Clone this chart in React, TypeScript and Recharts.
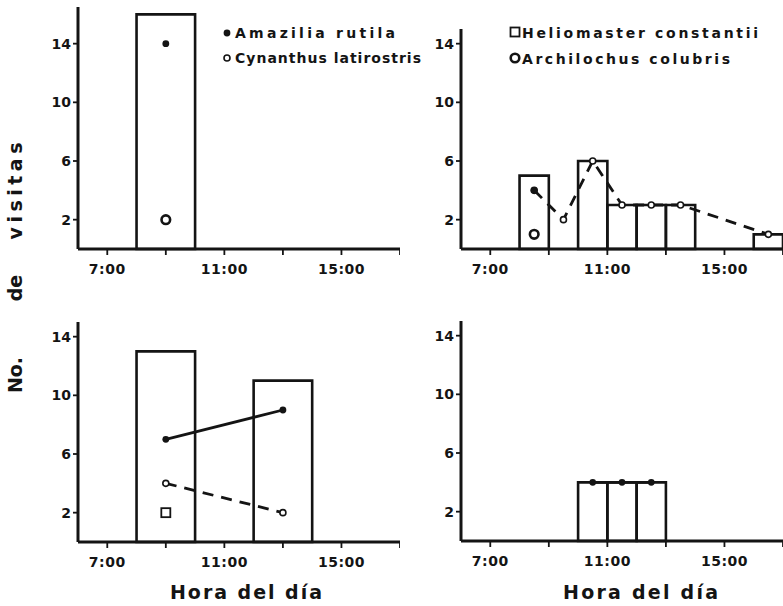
import { ComposedChart, XAxis, YAxis, Line, ReferenceArea } from 'recharts';

const INK = '#141414';
const FONT = '"DejaVu Sans", sans-serif';

// shared axes
const hourTicks = [7, 9, 11, 13, 15, 17];
const labelledHours = [7, 11, 15];
const countTicks = [2, 6, 10, 14];

// top left
const topLeftBars = [{ start: 8, end: 10, total: 16 }];
const topLeftAmazilia = [{ hour: 9, visits: 14 }];
const topLeftArchilochus = [{ hour: 9, visits: 2 }];

// top right
const topRightBars = [
  { start: 8, end: 9, total: 5 },
  { start: 10, end: 11, total: 6 },
  { start: 11, end: 12, total: 3 },
  { start: 12, end: 13, total: 3 },
  { start: 13, end: 14, total: 3 },
  { start: 16, end: 17, total: 1 },
];
const topRightAmazilia = [{ hour: 8.5, visits: 4 }];
const topRightCynanthus = [
  { hour: 9.5, visits: 2 },
  { hour: 10.5, visits: 6 },
  { hour: 11.5, visits: 3 },
  { hour: 12.5, visits: 3 },
  { hour: 13.5, visits: 3 },
  { hour: 16.5, visits: 1 },
];
const topRightArchilochus = [{ hour: 8.5, visits: 1 }];

// bottom left
const bottomLeftBars = [
  { start: 8, end: 10, total: 13 },
  { start: 12, end: 14, total: 11 },
];
const bottomLeftAmazilia = [
  { hour: 9, visits: 7 },
  { hour: 13, visits: 9 },
];
const bottomLeftCynanthus = [
  { hour: 9, visits: 4 },
  { hour: 13, visits: 2 },
];
const bottomLeftHeliomaster = [{ hour: 9, visits: 2 }];

// bottom right
const bottomRightBars = [
  { start: 10, end: 11, total: 4 },
  { start: 11, end: 12, total: 4 },
  { start: 12, end: 13, total: 4 },
];
const bottomRightAmazilia = [
  { hour: 10.5, visits: 4 },
  { hour: 11.5, visits: 4 },
  { hour: 12.5, visits: 4 },
];

type Point = { hour: number; visits: number };
type Bar = { start: number; end: number; total: number };
type Marker = 'filled' | 'open' | 'square' | 'ring';
type Series = { data: Point[]; marker: Marker | null; line?: 'solid' | 'dashed' };

function drawMarker(kind: Marker, cx: number, cy: number, key?: string | number) {
  switch (kind) {
    case 'filled':
      return <circle key={key} cx={cx} cy={cy} r={3.4} fill={INK} />;
    case 'open':
      return <circle key={key} cx={cx} cy={cy} r={3} fill="#fff" stroke={INK} strokeWidth={1.6} />;
    case 'square':
      return <rect key={key} x={cx - 4.5} y={cy - 4.5} width={9} height={9} fill="#fff" stroke={INK} strokeWidth={1.8} />;
    case 'ring':
      return <circle key={key} cx={cx} cy={cy} r={4.3} fill="#fff" stroke={INK} strokeWidth={2.6} />;
  }
}

const dotFor = (kind: Marker | null) => {
  if (!kind) return false;
  return (p: any) => {
    if (p.cx == null || p.cy == null) return <g key={p.index} />;
    return drawMarker(kind, p.cx, p.cy, p.index);
  };
};

interface PanelProps {
  left: number;
  top: number;
  height: number;
  plotTop: number;
  axisHeight: number;
  yMax: number;
  bars: Bar[];
  series: Series[];
}

function Panel({ left, top, height, plotTop, axisHeight, yMax, bars, series }: PanelProps) {
  return (
    <div style={{ position: 'absolute', left, top }}>
      <ComposedChart width={400} height={height} margin={{ top: plotTop, right: 0, bottom: 0, left: 0 }}>
        <XAxis
          type="number"
          dataKey="hour"
          domain={[6, 17]}
          ticks={hourTicks}
          interval={0}
          allowDataOverflow
          height={axisHeight}
          tickMargin={9}
          tickSize={6}
          tickFormatter={(v: number) => (labelledHours.includes(v) ? `${v}:00` : '')}
          axisLine={{ stroke: INK, strokeWidth: 3 }}
          tickLine={{ stroke: INK, strokeWidth: 1.8 }}
          tick={{ fill: INK, fontSize: 14, fontWeight: 'bold', fontFamily: FONT, letterSpacing: 0.5 }}
        />
        <YAxis
          type="number"
          domain={[0, yMax]}
          ticks={countTicks}
          interval={0}
          allowDataOverflow
          width={78}
          tickSize={5}
          tickMargin={2}
          axisLine={{ stroke: INK, strokeWidth: 3 }}
          tickLine={{ stroke: INK, strokeWidth: 1.8 }}
          tick={{ fill: INK, fontSize: 14, fontWeight: 'bold', fontFamily: FONT }}
        />
        {bars.map((b, i) => (
          <ReferenceArea
            key={i}
            x1={b.start}
            x2={b.end}
            y1={0}
            y2={b.total}
            fill="none"
            stroke={INK}
            strokeWidth={2.6}
            ifOverflow="visible"
          />
        ))}
        {series.map((s, i) => (
          <Line
            key={i}
            data={s.data}
            dataKey="visits"
            type="linear"
            stroke={s.line ? INK : 'none'}
            strokeWidth={2.8}
            strokeDasharray={s.line === 'dashed' ? '11 8' : undefined}
            dot={dotFor(s.marker)}
            activeDot={false}
            isAnimationActive={false}
          />
        ))}
      </ComposedChart>
    </div>
  );
}

const legendText = { fill: INK, fontSize: 14, fontWeight: 'bold' as const, fontFamily: FONT };
const titleText = { fill: INK, fontSize: 19, fontWeight: 'bold' as const, fontFamily: FONT };

export default function App() {
  return (
    <div style={{ position: 'absolute', left: 0, top: 0, width: 783, height: 606, overflow: 'hidden', background: '#fff' }}>
      <Panel
        left={0}
        top={0}
        height={300}
        plotTop={7}
        axisHeight={51}
        yMax={16.5}
        bars={topLeftBars}
        series={[
          { data: topLeftAmazilia, marker: 'filled' },
          { data: topLeftArchilochus, marker: 'ring' },
        ]}
      />
      <Panel
        left={383}
        top={0}
        height={300}
        plotTop={29}
        axisHeight={51}
        yMax={15}
        bars={topRightBars}
        series={[
          { data: [...topRightAmazilia, ...topRightCynanthus], marker: 'open', line: 'dashed' },
          { data: topRightAmazilia, marker: 'filled' },
          { data: topRightArchilochus, marker: 'ring' },
        ]}
      />
      <Panel
        left={0}
        top={300}
        height={300}
        plotTop={22}
        axisHeight={58}
        yMax={15}
        bars={bottomLeftBars}
        series={[
          { data: bottomLeftAmazilia, marker: 'filled', line: 'solid' },
          { data: bottomLeftCynanthus, marker: 'open', line: 'dashed' },
          { data: bottomLeftHeliomaster, marker: 'square' },
        ]}
      />
      <Panel
        left={383}
        top={300}
        height={300}
        plotTop={21}
        axisHeight={59}
        yMax={15}
        bars={bottomRightBars}
        series={[{ data: bottomRightAmazilia, marker: 'filled', line: 'solid' }]}
      />

      <svg width={783} height={606} style={{ position: 'absolute', left: 0, top: 0, pointerEvents: 'none' }}>
        {/* species key */}
        {drawMarker('filled', 227, 33)}
        <text x={235} y={38} textLength={160} lengthAdjust="spacing" style={legendText}>Amazilia rutila</text>
        {drawMarker('open', 227, 58)}
        <text x={235} y={63} textLength={186} lengthAdjust="spacing" style={legendText}>Cynanthus latirostris</text>
        {drawMarker('square', 515, 32)}
        <text x={522} y={38} textLength={236} lengthAdjust="spacing" style={legendText}>Heliomaster constantii</text>
        {drawMarker('ring', 515, 58)}
        <text x={522} y={64} textLength={208} lengthAdjust="spacing" style={legendText}>Archilochus colubris</text>

        {/* y title, one word at a time */}
        <text x={15} y={375} transform="rotate(-90 15 375)" textAnchor="middle" dominantBaseline="central" style={titleText}>No.</text>
        <text x={15} y={288} transform="rotate(-90 15 288)" textAnchor="middle" dominantBaseline="central" style={titleText}>de</text>
        <text x={15} y={191} transform="rotate(-90 15 191)" textAnchor="middle" dominantBaseline="central" textLength={97} lengthAdjust="spacing" style={titleText}>visitas</text>

        {/* x titles */}
        <text x={170} y={599} textLength={152} lengthAdjust="spacing" style={titleText}>Hora del día</text>
        <text x={563} y={599} textLength={155} lengthAdjust="spacing" style={titleText}>Hora del día</text>
      </svg>
    </div>
  );
}
